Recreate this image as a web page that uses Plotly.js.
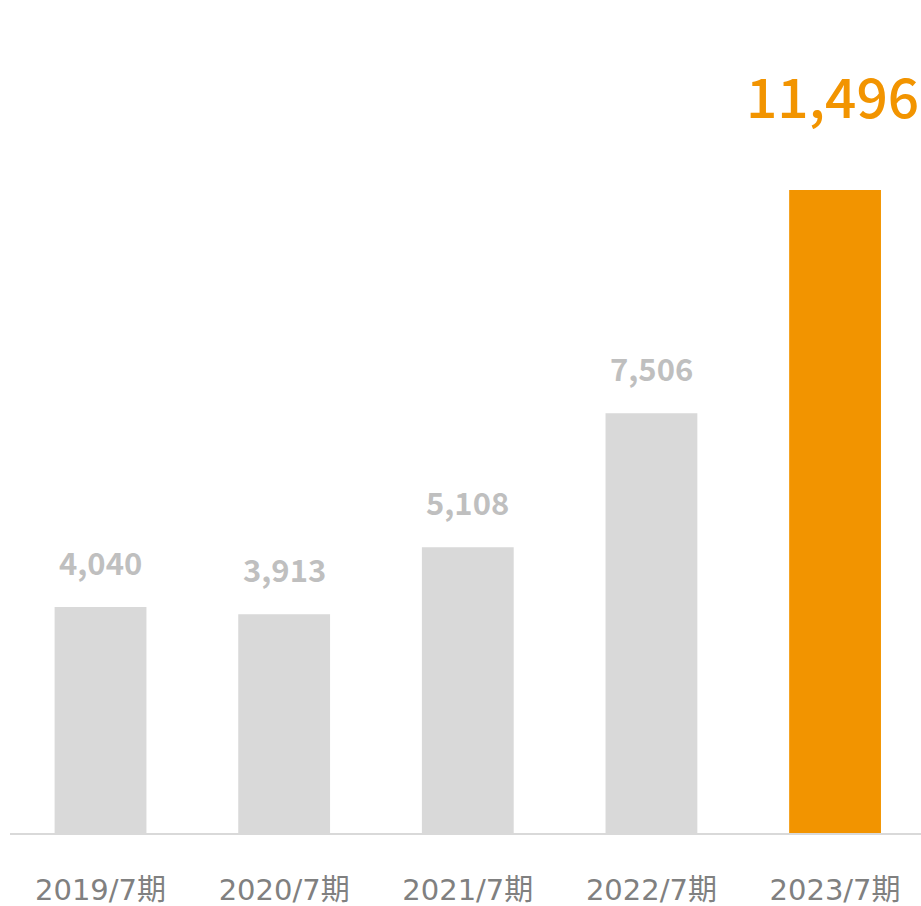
<!DOCTYPE html>
<html>
<head>
<meta charset="utf-8">
<script src="https://cdn.plot.ly/plotly-3.0.1.min.js"></script>
<style>html,body{margin:0;padding:0;background:#fff;}#chart{width:921px;height:906px;}</style>
</head>
<body>
<div id="chart"></div>
<script>
const categories = ["2019/7期", "2020/7期", "2021/7期", "2022/7期", "2023/7期"];
const values = [4040, 3913, 5108, 7506, 11496];
const barColors = ["#D9D9D9", "#D9D9D9", "#D9D9D9", "#D9D9D9", "#F29400"];
const labelColors = ["#BFBFBF", "#BFBFBF", "#BFBFBF", "#BFBFBF", "#F29400"];

const fmt = v => v.toLocaleString("en-US");

const trace = {
  type: "bar",
  x: categories,
  y: values,
  width: 0.5,
  marker: {color: barColors},
  hoverinfo: "none"
};

const annotations = values.map((v, i) => {
  const last = i === values.length - 1;
  return {
    x: categories[i],
    y: v,
    xref: "x",
    yref: "y",
    text: fmt(v),
    showarrow: false,
    yanchor: "bottom",
    yshift: last ? 54 : 21,
    xshift: last ? -3 : 0,
    font: {
      family: "Noto Sans CJK JP, Noto Sans, sans-serif",
      size: last ? 55 : 31,
      color: labelColors[i],
      weight: last ? 500 : 700
    }
  };
});

const layout = {
  width: 921,
  height: 906,
  margin: {l: 10, r: 0, t: 0, b: 73},
  paper_bgcolor: "#fff",
  plot_bgcolor: "#fff",
  showlegend: false,
  xaxis: {
    type: "category",
    range: [-0.493, 4.468],
    showline: true,
    linecolor: "#D9D9D9",
    linewidth: 2,
    ticks: "",
    ticklabelstandoff: 30,
    tickfont: {family: "DejaVu Sans, Noto Sans CJK JP, sans-serif", size: 29, color: "#808080"},
    showgrid: false,
    zeroline: false,
    fixedrange: true
  },
  yaxis: {
    range: [0, 14893],
    visible: false,
    showgrid: false,
    zeroline: false,
    fixedrange: true
  },
  annotations: annotations
};

Plotly.newPlot("chart", [trace], layout, {staticPlot: true, displayModeBar: false});
</script>
</body>
</html>
